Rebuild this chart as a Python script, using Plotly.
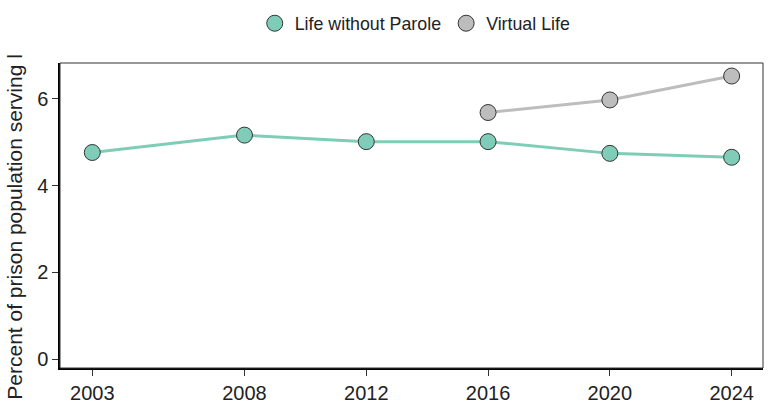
import plotly.graph_objects as go

years_lwop = [2003, 2008, 2012, 2016, 2020, 2024]
pct_lwop = [4.76, 5.16, 5.01, 5.01, 4.74, 4.65]

years_virtual = [2016, 2020, 2024]
pct_virtual = [5.68, 5.97, 6.52]

x_ticks = [2003, 2008, 2012, 2016, 2020, 2024]
y_ticks = [0, 2, 4, 6]

teal = '#7fcdb8'
grey = '#bdbdbd'
font_fam = 'Liberation Sans, Arial, sans-serif'

fig = go.Figure()

fig.add_trace(go.Scatter(
    x=years_lwop, y=pct_lwop, mode='lines+markers',
    line=dict(color=teal, width=3),
    marker=dict(size=16, color=teal, line=dict(color='#333333', width=1)),
    showlegend=False,
))
fig.add_trace(go.Scatter(
    x=years_virtual, y=pct_virtual, mode='lines+markers',
    line=dict(color=grey, width=3),
    marker=dict(size=16, color=grey, line=dict(color='#333333', width=1)),
    showlegend=False,
))

# legend entries: markers only
for name, col in [('Life without Parole', teal), ('Virtual Life', grey)]:
    fig.add_trace(go.Scatter(
        x=[None], y=[None], mode='markers', name=name,
        marker=dict(size=16, color=col, line=dict(color='#333333', width=1)),
    ))

fig.update_layout(
    width=768, height=407,
    margin=dict(l=60, r=5, t=54, b=39),
    paper_bgcolor='white',
    plot_bgcolor='white',
    font=dict(family=font_fam, color='#222222'),
    legend=dict(
        orientation='h', x=0.277, xanchor='left', y=1.129, yanchor='middle',
        font=dict(size=17.8, color='#222222'),
        itemwidth=30,
    ),
    xaxis=dict(
        range=[2001.94, 2025.03],
        tickvals=x_ticks,
        showgrid=False, zeroline=False, automargin=False,
        showline=True, linecolor='black', linewidth=1.5,
        ticks='outside', ticklen=6, tickcolor='#333333',
        tickfont=dict(size=20, color='#222222'),
    ),
    yaxis=dict(
        range=[-0.20, 6.82],
        tickvals=y_ticks,
        showgrid=False, zeroline=False, automargin=False,
        showline=True, linecolor='black', linewidth=1.5,
        ticks='outside', ticklen=6, tickcolor='#333333',
        tickfont=dict(size=20, color='#222222'),
    ),
    shapes=[dict(type='rect', xref='paper', yref='paper', x0=0, x1=1, y0=0, y1=1,
                 line=dict(color='#333333', width=1))],
    annotations=[dict(
        text='Percent of prison population serving l',
        xref='paper', yref='paper', x=-0.066, y=0.462,
        xanchor='center', yanchor='middle', textangle=-90, showarrow=False,
        font=dict(size=21, color='#222222'),
    )],
)

# drop the default 8px body margin so the 768x407 figure fills the window
fig.write_html("out.html", config={'displayModeBar': False},
               post_script="document.body.style.margin='0';document.body.style.overflow='hidden';")
